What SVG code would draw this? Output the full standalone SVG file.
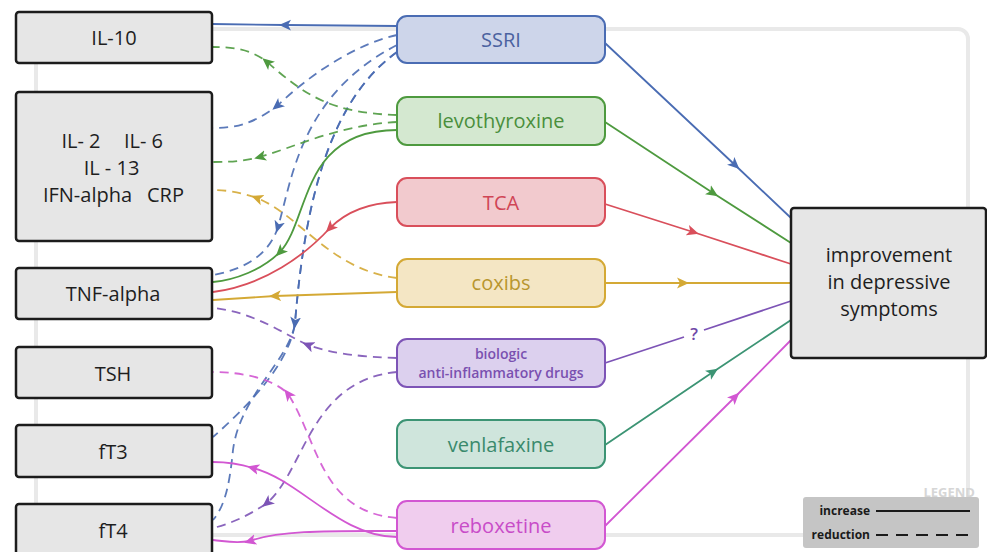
<svg xmlns="http://www.w3.org/2000/svg" width="987" height="552" viewBox="0 0 987 552">
<style>
  text { font-family: "Open Sans", "Noto Sans", "Liberation Sans", sans-serif; }
  .lb rect { fill: #e6e6e6; stroke: #1c1c1c; stroke-width: 2.5; }
  .lb text { font-size: 20px; fill: #1e1e1e; text-anchor: middle; }
  .mb text { font-size: 20px; text-anchor: middle; }
  .c { fill: none; stroke-width: 1.8; }
  .d { stroke-dasharray: 9 6; stroke-opacity: 0.9; }
  .blue { stroke: #4a6cb3; }
  .green { stroke: #4e9a3f; }
  .red { stroke: #d94f5b; }
  .gold { stroke: #d4a935; }
  .purple { stroke: #7d54b6; }
  .teal { stroke: #3c9474; }
  .mag { stroke: #d257d2; }
</style>
<defs>
  <marker id="m-blue" viewBox="0 0 10 10" refX="5" refY="5" markerWidth="12" markerHeight="12" markerUnits="userSpaceOnUse" orient="auto"><path d="M0,0.5 L10,5 L0,9.5 L2.5,5 z" fill="#4a6cb3"/></marker>
  <marker id="m-green" viewBox="0 0 10 10" refX="5" refY="5" markerWidth="12" markerHeight="12" markerUnits="userSpaceOnUse" orient="auto"><path d="M0,0.5 L10,5 L0,9.5 L2.5,5 z" fill="#4e9a3f"/></marker>
  <marker id="m-red" viewBox="0 0 10 10" refX="5" refY="5" markerWidth="12" markerHeight="12" markerUnits="userSpaceOnUse" orient="auto"><path d="M0,0.5 L10,5 L0,9.5 L2.5,5 z" fill="#d94f5b"/></marker>
  <marker id="m-gold" viewBox="0 0 10 10" refX="5" refY="5" markerWidth="12" markerHeight="12" markerUnits="userSpaceOnUse" orient="auto"><path d="M0,0.5 L10,5 L0,9.5 L2.5,5 z" fill="#d4a935"/></marker>
  <marker id="m-purple" viewBox="0 0 10 10" refX="5" refY="5" markerWidth="12" markerHeight="12" markerUnits="userSpaceOnUse" orient="auto"><path d="M0,0.5 L10,5 L0,9.5 L2.5,5 z" fill="#7d54b6"/></marker>
  <marker id="m-teal" viewBox="0 0 10 10" refX="5" refY="5" markerWidth="12" markerHeight="12" markerUnits="userSpaceOnUse" orient="auto"><path d="M0,0.5 L10,5 L0,9.5 L2.5,5 z" fill="#3c9474"/></marker>
  <marker id="m-mag" viewBox="0 0 10 10" refX="5" refY="5" markerWidth="12" markerHeight="12" markerUnits="userSpaceOnUse" orient="auto"><path d="M0,0.5 L10,5 L0,9.5 L2.5,5 z" fill="#d257d2"/></marker>
</defs>

<rect id="frame" x="36" y="29" width="932" height="506" rx="10" fill="none" stroke="#e9e9e9" stroke-width="4"/>

<g id="connectors">
  <!-- SSRI (blue) -->
  <path class="c blue" marker-mid="url(#m-blue)" d="M397,26 L285,25 L212,24"/>
  <path class="c blue d" marker-mid="url(#m-blue)" d="M397,35 C365,42 320,65 277,106 C255,122 240,128 213,128"/>
  <path class="c blue d" marker-mid="url(#m-blue)" d="M397,45 C300,95 292,180 278,227 C268,258 240,270 213,275"/>
  <path class="c blue d" marker-mid="url(#m-blue)" d="M397,52 C330,100 305,200 295,323 C290,360 255,400 213,437"/>
  <path class="c blue d" d="M397,52 C330,100 305,200 295,323 C290,360 240,395 233,450 C230,480 226,505 213,520"/>
  <path class="c blue" marker-mid="url(#m-blue)" d="M605,43 L735,165 L791,218"/>

  <!-- levothyroxine (green) -->
  <path class="c green d" marker-mid="url(#m-green)" d="M397,115 C330,113 305,95 267,62 C252,50 235,47 213,47"/>
  <path class="c green d" marker-mid="url(#m-green)" d="M397,122 C340,125 300,145 260,157 C240,162 225,162 213,162"/>
  <path class="c green" marker-mid="url(#m-green)" d="M397,130 C300,130 310,220 280,252 C262,270 235,280 213,282"/>
  <path class="c green" marker-mid="url(#m-green)" d="M605,122 L713,193 L791,243"/>

  <!-- TCA (red) -->
  <path class="c red" marker-mid="url(#m-red)" d="M397,202 C365,203 345,213 330,228 C305,255 265,285 213,292"/>
  <path class="c red" marker-mid="url(#m-red)" d="M605,204 L693,232 L791,264"/>

  <!-- coxibs (gold) -->
  <path class="c gold d" marker-mid="url(#m-gold)" d="M397,278 C330,270 300,215 257,198 C240,192 225,190 213,190"/>
  <path class="c gold" marker-mid="url(#m-gold)" d="M397,292 L275,296 L213,300"/>
  <path class="c gold" marker-mid="url(#m-gold)" d="M605,283 L683,283 L791,283"/>

  <!-- biologic (purple) -->
  <path class="c purple d" marker-mid="url(#m-purple)" d="M397,358 C360,357 330,353 308,345 C285,335 255,312 213,308"/>
  <path class="c purple d" marker-mid="url(#m-purple)" d="M397,372 C310,380 305,470 267,503 C250,515 230,524 213,528"/>
  <path class="c purple" d="M605,363 L684,337"/>
  <path class="c purple" d="M704,330 L791,301"/>
  <text x="694" y="340" font-size="17" font-weight="600" fill="#6f48a8" text-anchor="middle">?</text>

  <!-- venlafaxine (teal) -->
  <path class="c teal" marker-mid="url(#m-teal)" d="M605,445 L713,372 L791,320"/>

  <!-- reboxetine (magenta) -->
  <path class="c mag d" marker-mid="url(#m-mag)" d="M397,518 C320,512 318,440 288,394 C275,380 245,372 213,372"/>
  <path class="c mag" marker-mid="url(#m-mag)" d="M397,537 C340,537 300,480 253,468 C240,464 225,462 213,462"/>
  <path class="c mag" marker-mid="url(#m-mag)" d="M397,531 C330,531 280,530 250,541 C235,544 225,541 213,540"/>
  <path class="c mag" marker-mid="url(#m-mag)" d="M605,526 L735,397 L791,340"/>
</g>

<!-- left nodes -->
<g id="il10" class="lb"><rect x="16" y="12" width="196" height="51" rx="3"/><text x="114" y="45">IL-10</text></g>
<g id="il2" class="lb"><rect x="16" y="92" width="196" height="149" rx="3"/>
  <text x="81" y="148">IL- 2</text><text x="143.5" y="148">IL- 6</text>
  <text x="111.5" y="175">IL - 13</text>
  <text x="87.5" y="202">IFN-alpha</text><text x="165.5" y="202">CRP</text></g>
<g id="tnf" class="lb"><rect x="16" y="268" width="196" height="51" rx="3"/><text x="113" y="301">TNF-alpha</text></g>
<g id="tsh" class="lb"><rect x="16" y="347" width="196" height="51" rx="3"/><text x="113" y="381">TSH</text></g>
<g id="ft3" class="lb"><rect x="16" y="425" width="196" height="52" rx="3"/><text x="113" y="459">fT3</text></g>
<g id="ft4" class="lb"><rect x="16" y="504" width="196" height="60" rx="3"/><text x="113" y="538">fT4</text></g>

<!-- middle nodes -->
<g id="ssri" class="mb"><rect x="397" y="16" width="208" height="47" rx="10" fill="#cdd5ea" stroke="#4a6cb3" stroke-width="2"/><text x="501" y="47" fill="#4b62a0">SSRI</text></g>
<g id="levo" class="mb"><rect x="397" y="97" width="208" height="48" rx="10" fill="#d4e8d0" stroke="#4e9a3f" stroke-width="2"/><text x="501" y="128" fill="#4a8f3c">levothyroxine</text></g>
<g id="tca" class="mb"><rect x="397" y="178" width="208" height="48" rx="10" fill="#f2cace" stroke="#d94f5b" stroke-width="2"/><text x="501" y="210" fill="#d04555">TCA</text></g>
<g id="coxibs" class="mb"><rect x="397" y="259" width="208" height="48" rx="10" fill="#f4e6c4" stroke="#d4a935" stroke-width="2"/><text x="501" y="290" fill="#b8962e">coxibs</text></g>
<g id="biologic" class="mb"><rect x="397" y="339" width="208" height="48" rx="10" fill="#dcd0ee" stroke="#7d54b6" stroke-width="2"/>
  <text x="501" y="359" font-weight="600" fill="#7a50b0" style="font-size:14px">biologic</text>
  <text x="501" y="378" font-weight="600" fill="#7a50b0" style="font-size:14px">anti-inflammatory drugs</text></g>
<g id="venlafaxine" class="mb"><rect x="397" y="420" width="208" height="48" rx="10" fill="#cfe5dc" stroke="#3c9474" stroke-width="2"/><text x="501" y="452" fill="#3a8a6c">venlafaxine</text></g>
<g id="reboxetine" class="mb"><rect x="397" y="501" width="208" height="48" rx="10" fill="#f0cdee" stroke="#d257d2" stroke-width="2"/><text x="501" y="533" fill="#c84cc8">reboxetine</text></g>

<!-- right node -->
<g id="improvement" class="lb"><rect x="791" y="208" width="195" height="150" rx="3"/>
  <text x="889" y="262">improvement</text>
  <text x="889" y="289">in depressive</text>
  <text x="889" y="316">symptoms</text></g>

<!-- legend -->
<g id="legend">
  <text x="975" y="497" font-size="13" font-weight="700" fill="#d6d6d6" text-anchor="end">LEGEND</text>
  <rect x="803" y="497" width="176" height="51" rx="3" fill="#c5c5c5"/>
  <text x="870" y="515" font-size="12" font-weight="700" fill="#1a1a1a" text-anchor="end">increase</text>
  <line x1="876" y1="511" x2="970" y2="511" stroke="#1a1a1a" stroke-width="2"/>
  <text x="870" y="539" font-size="12" font-weight="700" fill="#1a1a1a" text-anchor="end">reduction</text>
  <line x1="876" y1="535" x2="970" y2="535" stroke="#1a1a1a" stroke-width="2" stroke-dasharray="12 8"/>
</g>
</svg>
